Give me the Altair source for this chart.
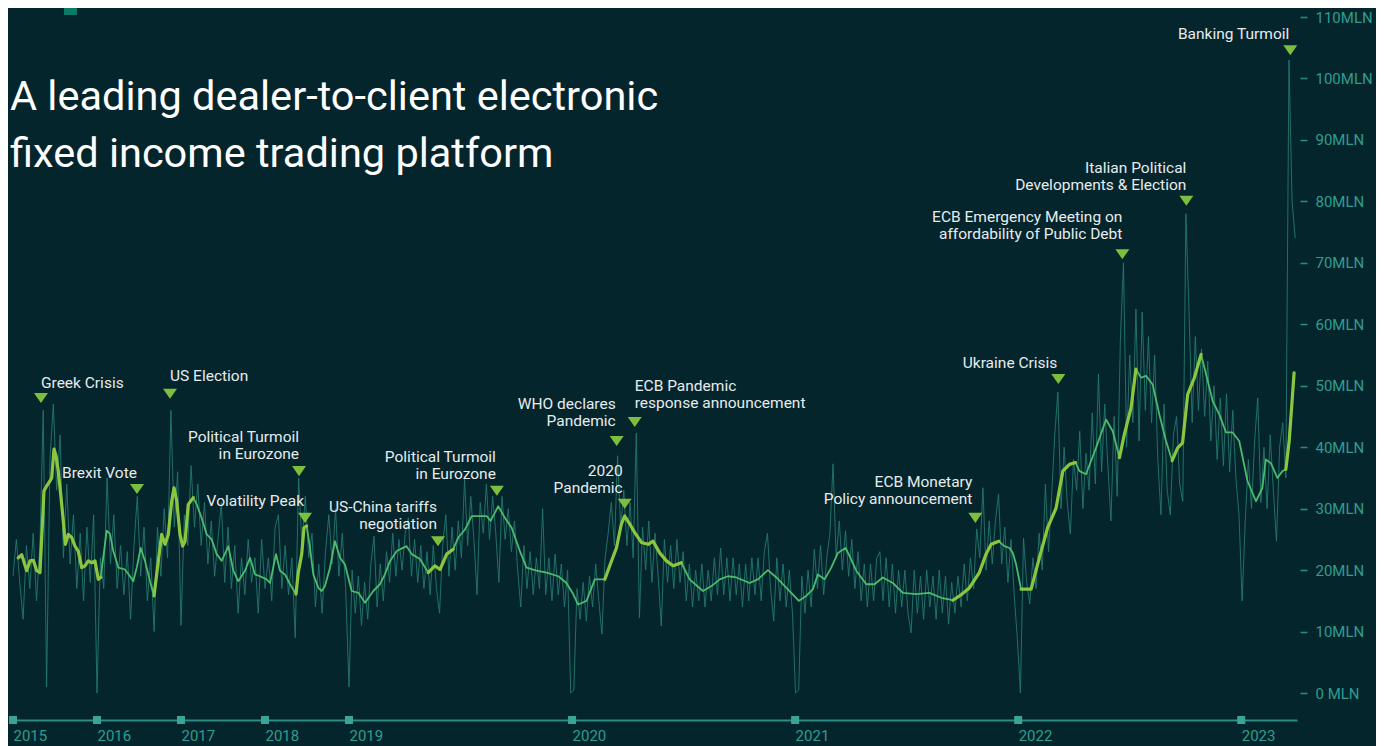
import altair as alt
import pandas as pd

# ---------------- data ----------------
YEARS = [2015, 2016, 2017, 2018, 2019, 2020, 2021, 2022, 2023]

# moving average (fractional year, MLN)
SMOOTH_T = [
    2015.063, 2015.104, 2015.163, 2015.202, 2015.242, 2015.282, 2015.321, 2015.369, 2015.401, 2015.440,
    2015.461, 2015.488, 2015.512, 2015.539, 2015.568, 2015.599, 2015.623, 2015.658, 2015.699, 2015.738,
    2015.777, 2015.818, 2015.857, 2015.896, 2015.937, 2015.976,
    2016.015, 2016.044, 2016.115, 2016.155, 2016.194, 2016.254, 2016.333, 2016.393, 2016.432, 2016.473,
    2016.520, 2016.571, 2016.631, 2016.679, 2016.730, 2016.770, 2016.810, 2016.849, 2016.889, 2016.917,
    2016.949, 2016.988,
    2017.020, 2017.048, 2017.087, 2017.146, 2017.187, 2017.246, 2017.306, 2017.365, 2017.425, 2017.485,
    2017.563, 2017.623, 2017.682, 2017.762, 2017.821, 2017.881, 2017.940,
    2018.020, 2018.060, 2018.131, 2018.179, 2018.238, 2018.298, 2018.369, 2018.396, 2018.437, 2018.464,
    2018.496, 2018.536, 2018.575, 2018.635, 2018.675, 2018.714, 2018.774, 2018.833, 2018.893, 2018.952,
    2019.012, 2019.042, 2019.072, 2019.109, 2019.139, 2019.161, 2019.184, 2019.214, 2019.258, 2019.281,
    2019.318, 2019.355, 2019.385, 2019.408, 2019.438, 2019.467, 2019.490, 2019.520, 2019.550, 2019.587,
    2019.617, 2019.635, 2019.669, 2019.699, 2019.729, 2019.766, 2019.796, 2019.841, 2019.886, 2019.938,
    2019.975,
    2020.005, 2020.027, 2020.065, 2020.102, 2020.147, 2020.177, 2020.199, 2020.221, 2020.236, 2020.259,
    2020.281, 2020.311, 2020.341, 2020.363, 2020.393, 2020.423, 2020.453, 2020.490, 2020.527, 2020.587,
    2020.625, 2020.662, 2020.699, 2020.737, 2020.796, 2020.833, 2020.878, 2020.916, 2020.961,
    2021.017, 2021.050, 2021.080, 2021.102, 2021.132, 2021.162, 2021.192, 2021.226, 2021.244, 2021.274,
    2021.319, 2021.356, 2021.393, 2021.438, 2021.483, 2021.543, 2021.602, 2021.655, 2021.707, 2021.737,
    2021.781, 2021.826, 2021.856, 2021.879, 2021.913, 2021.938, 2021.961, 2021.976, 2021.991,
    2022.013, 2022.058, 2022.095, 2022.132, 2022.170, 2022.200, 2022.230, 2022.257, 2022.275, 2022.304,
    2022.349, 2022.394, 2022.424, 2022.454, 2022.476, 2022.506, 2022.528, 2022.551, 2022.573, 2022.603,
    2022.633, 2022.663, 2022.690, 2022.715, 2022.737, 2022.760, 2022.790, 2022.820, 2022.842, 2022.872,
    2022.902, 2022.932, 2022.961, 2022.991,
    2023.028, 2023.066, 2023.095, 2023.110, 2023.133, 2023.162, 2023.185, 2023.200, 2023.215, 2023.237,
]
SMOOTH_V = [
    22.0, 22.5, 19.9, 21.5, 21.6, 19.9, 19.6, 32.9, 33.7, 34.5,
    35.0, 39.7, 38.6, 36.1, 32.3, 28.0, 24.2, 25.8, 25.3, 23.9,
    23.1, 20.4, 20.7, 21.5, 21.2, 21.5,
    18.5, 18.8, 26.4, 25.9, 23.1, 20.4, 20.1, 19.0, 18.2, 20.4,
    23.6, 21.5, 18.2, 15.8, 21.5, 25.8, 24.2, 25.8, 31.2, 33.4,
    31.2, 25.8,
    23.9, 24.7, 30.7, 31.8, 30.7, 28.5, 25.8, 25.0, 22.6, 21.5,
    23.9, 19.9, 18.2, 19.9, 22.0, 19.3, 19.0,
    18.5, 17.9, 22.6, 19.9, 19.3, 17.7, 16.1, 19.6, 22.6, 26.9,
    27.2, 23.6, 19.3, 17.1, 16.6, 17.4, 20.4, 24.7, 22.0, 20.9,
    16.6, 16.3, 14.7, 16.6, 17.7, 19.3, 21.5, 23.1, 23.9, 22.6,
    21.8, 19.6, 20.7, 20.1, 22.6, 23.4, 25.3, 26.6, 28.8, 28.8,
    28.8, 28.0, 30.4, 28.5, 26.9, 23.1, 20.4, 19.9, 19.6, 19.0,
    17.9,
    16.1, 14.4, 15.0, 18.5, 18.5, 21.5, 23.6, 27.5, 28.8, 27.5,
    26.1, 24.5, 24.2, 24.7, 22.8, 21.5, 20.7, 21.2, 18.5, 16.6,
    17.4, 18.5, 19.0, 18.8, 17.9, 18.5, 20.0, 18.8, 17.1,
    15.0, 15.8, 16.9, 19.3, 18.5, 20.4, 22.8, 23.6, 22.3, 19.9,
    17.7, 17.7, 18.8, 17.9, 16.3, 16.1, 16.3, 15.5, 15.1, 15.8,
    17.1, 19.6, 22.6, 24.2, 24.7, 23.9, 23.6, 22.8, 20.9,
    16.9, 16.9, 22.0, 26.9, 30.1, 36.1, 37.2, 37.5, 36.1, 35.6,
    39.9, 44.5, 42.6, 38.3, 42.1, 46.4, 52.7, 51.3, 51.6, 50.2,
    45.3, 41.0, 37.8, 39.9, 40.7, 48.6, 51.3, 55.1, 51.9, 47.5,
    45.3, 42.4, 42.4, 41.0,
    34.5, 31.2, 33.4, 38.0, 37.4, 35.0, 36.1, 36.4, 41.0, 52.1,
]

# periods where the moving average is highlighted (thick lime line)
EVENT_WINDOWS = [
    (2015.0, 2016.05), (2016.675, 2017.15), (2018.365, 2018.50), (2019.355, 2019.470),
    (2020.145, 2020.492), (2021.705, 2021.915), (2022.010, 2022.260), (2022.452, 2022.530),
    (2022.688, 2022.822), (2023.198, 2023.24),
]

# daily-volume trace, sampled: 2015-2018 every 0.04 yr, 2019-2023 every 0.014 yr
NOISE_A_START, NOISE_A_STEP = 2015.0, 0.04
NOISE_A = [
    19, 25, 18, 12, 24, 17, 26, 15, 24, 46,
    1, 38, 47, 33, 42, 22, 34, 21, 29, 17,
    26, 15, 27, 18, 29, 0, 22, 17, 35, 21,
    29, 17, 24, 16, 23, 12, 24, 32, 19, 27,
    15, 22, 10, 27, 19, 30, 22, 46, 27, 36,
    11, 29, 24, 37, 27, 34, 24, 31, 21, 28,
    19, 25, 31, 18, 27, 17, 24, 13, 22, 16,
    25, 18, 22, 13, 25, 17, 22, 15, 27, 29,
    17, 24, 16, 22, 9, 35, 24, 32, 22, 26,
    14, 21, 13, 23, 29, 21, 30, 19, 26, 17,
]
NOISE_B_START, NOISE_B_STEP = 2019.0, 0.014
NOISE_B = [
    1, 20, 13, 19, 11, 18, 12, 21, 25.5, 14,
    21, 15, 23, 18, 26, 19, 25, 20, 26, 28.5,
    19, 25, 18, 24, 17, 23, 16, 24, 17, 13,
    24, 29, 19, 27, 20, 28, 22, 34.8, 24, 32,
    25, 16, 31, 26, 34, 25, 32, 26, 18, 32,
    25, 30, 23, 28, 20, 14, 24, 17, 23, 16,
    22, 17, 30, 16, 22, 15, 22.6, 16, 21, 14,
    20, 0, 0.5, 17, 12, 18, 11.7, 19, 14, 21,
    15, 9.6, 22, 26, 31, 24, 38.6, 27, 33, 24,
    31, 22, 42.3, 12.2, 27, 20, 28, 18, 26, 19,
    10.9, 25, 18, 24, 17, 25, 18, 23, 15, 21,
    14, 20, 15, 21, 14, 20, 15, 22, 16, 23.6,
    16, 22, 15, 22, 16, 21, 14, 21, 15, 22,
    16, 22, 15, 23, 26, 17, 11.7, 22, 15, 21,
    14, 20, 13, 0, 0.5, 19, 13, 20, 14, 23.4,
    17, 24, 16, 22, 26, 37.3, 22, 28, 20, 26.4,
    19, 25, 17, 23, 15, 21, 14, 21, 15, 22,
    23, 15, 22, 14, 21, 13, 20, 14, 20, 13,
    9.8, 20, 13, 19, 12, 20, 14, 19, 12, 20,
    13, 19, 11.2, 18, 13, 19, 14, 21, 15, 22,
    17, 26.7, 22, 33.4, 20, 28, 21, 28, 32.4, 21,
    27, 18, 25, 16, 9, 0, 25.2, 18, 14.5, 22,
    17, 26, 20, 34, 23, 32, 42, 49, 30, 40,
    31, 25.9, 38, 33, 42.6, 30, 39, 33, 45.6, 34,
    51.9, 36, 47, 37, 28, 45, 32, 57.3, 70, 40,
    55, 44, 62.5, 41, 62, 46, 58, 44, 55, 38,
    29, 47, 33, 29, 42, 45, 34, 31.2, 78, 62,
    44, 58, 46, 56, 45, 54, 41, 50, 38, 48,
    37, 48.7, 36, 46, 35, 29, 15, 28, 38, 30,
    41, 48, 31, 40, 30, 42, 33, 24.7, 40, 44,
    35, 103, 80, 74,
]

EVENT_LINES = [
    ["Greek Crisis"],
    ["Brexit Vote"],
    ["US Election"],
    ["Political Turmoil", "in Eurozone"],
    ["Volatility Peak"],
    ["US-China tariffs", "negotiation"],
    ["Political Turmoil", "in Eurozone"],
    ["WHO declares", "Pandemic"],
    ["2020", "Pandemic"],
    ["ECB Pandemic", "response announcement"],
    ["ECB Monetary", "Policy announcement"],
    ["Ukraine Crisis"],
    ["ECB Emergency Meeting on", "affordability of Public Debt"],
    ["Italian Political", "Developments & Election"],
    ["Banking Turmoil"],
]
EVENT_T = [2015.333, 2016.476, 2016.869, 2018.405, 2018.476, 2019.399, 2019.663, 2020.200,
           2020.236, 2020.281, 2021.808, 2022.180, 2022.467, 2022.754, 2023.220]
EVENT_V = [48.0, 33.2, 48.7, 36.1, 28.5, 24.7, 32.9, 41.0, 30.8, 44.1, 28.5, 51.1, 71.4, 80.1, 104.6]

TITLE_LINES = ["A leading dealer-to-client electronic", "fixed income trading platform"]
Y_TICKS = list(range(0, 111, 10))

# ---------------- styling ----------------
BG = "#05252c"
TEAL_TXT = "#2f9d90"
TEAL_LINE = "#2a8c82"
NOISE_COL = "#23786f"
THIN_COL = "#4cbb6c"
THICK_COL = "#8cc63f"
TRI_COL = "#7cbf3f"
LABEL_COL = "#e6ecee"
FONT = "Roboto"
W, H = 1284, 703
LINE_GAP = 17
# (align, dx, dy of last line) per event label
LABEL_LAYOUT = [("left", 0, -15), ("right", 0, -16), ("left", 0, -18), ("right", 0, -17),
                ("right", -1, -17), ("right", -1, -17), ("right", -1, -17), ("right", -1, -20),
                ("right", -2, -16), ("left", 0, -19), ("right", -3, -19), ("right", -1, -16),
                ("right", 0, -20), ("right", 0, -16), ("right", -1, -16)]

# ---------------- tables ----------------
noise_t = [NOISE_A_START + i * NOISE_A_STEP for i in range(len(NOISE_A))] + \
          [NOISE_B_START + i * NOISE_B_STEP for i in range(len(NOISE_B))]
noise_df = pd.DataFrame({"t": noise_t, "v": NOISE_A + NOISE_B})
smooth_df = pd.DataFrame({"t": SMOOTH_T, "v": SMOOTH_V})
rows = []
for w, (a, b) in enumerate(EVENT_WINDOWS):
    for t, v in zip(SMOOTH_T, SMOOTH_V):
        if a <= t <= b:
            rows.append({"t": t, "v": v, "w": w})
thick_df = pd.DataFrame(rows)
years_df = pd.DataFrame({"t": YEARS})
events_df = pd.DataFrame({"t": EVENT_T, "v": EVENT_V})

x_scale = alt.Scale(domain=[2015, 2019, 2023.25], range=[0, 336, W], nice=False, zero=False)
y_scale = alt.Scale(domain=[-4.39, 110], nice=False, zero=False)
X_AXIS = alt.Axis(
    values=YEARS, format="d", labelAlign="left", labelColor=TEAL_TXT, labelFont=FONT,
    labelFontSize=15, labelPadding=8, ticks=False, domainColor=TEAL_LINE, domainWidth=2,
    grid=False, title=None, labelFlush=False, labelOverlap=False)
Y_AXIS = alt.Axis(
    orient="right", values=Y_TICKS,
    labelExpr="datum.value == 0 ? '0 MLN' : datum.value + 'MLN'",
    offset=3, tickSize=7, tickWidth=1.5, tickColor=TEAL_LINE, labelPadding=8,
    domain=False, grid=False, title=None, labelColor=TEAL_TXT, labelFont=FONT,
    labelFontSize=15, labelBaseline="middle")
X = alt.X("t:Q", scale=x_scale, axis=X_AXIS)
Y = alt.Y("v:Q", scale=y_scale, axis=Y_AXIS)

noise = alt.Chart(noise_df).mark_line(color=NOISE_COL, strokeWidth=1, opacity=0.9).encode(x=X, y=Y)
thin = alt.Chart(smooth_df).mark_line(color=THIN_COL, strokeWidth=1.8, strokeJoin="round").encode(x=X, y=Y)
thick = alt.Chart(thick_df).mark_line(color=THICK_COL, strokeWidth=3.2, strokeJoin="round",
                                      strokeCap="round").encode(x=X, y=Y, detail="w:N")

squares = alt.Chart(years_df).mark_square(size=64, color="#3aa596", opacity=1).encode(
    x=X, y=alt.value(H),
)

tri = alt.Chart(events_df).mark_point(
    shape="M-1,-0.72L1,-0.72L0,0.72Z", size=196, filled=True, opacity=1, color=TRI_COL
).encode(x=X, y=Y)

label_layers = []
for i, lines in enumerate(EVENT_LINES):
    align, dx, dy = LABEL_LAYOUT[i]
    n = len(lines)
    for j, line in enumerate(lines):
        df = pd.DataFrame({"t": [EVENT_T[i]], "v": [EVENT_V[i]], "txt": [line]})
        label_layers.append(
            alt.Chart(df).mark_text(align=align, baseline="middle", dx=dx,
                                    dy=dy - LINE_GAP * (n - 1 - j), font=FONT, fontSize=15.5,
                                    color=LABEL_COL).encode(x=X, y=Y, text="txt:N")
        )

title_layers = []
for j, line in enumerate(TITLE_LINES):
    title_layers.append(
        alt.Chart(pd.DataFrame({"txt": [line]})).mark_text(
            align="left", baseline="alphabetic", font=FONT, fontSize=41.5, color="#ffffff"
        ).encode(x=alt.value(-3), y=alt.value(93 + 57 * j), text="txt:N")
    )

logo = alt.Chart(pd.DataFrame({"a": [0]})).mark_rect(color="#0b7a66").encode(
    x=alt.value(51), x2=alt.value(64), y=alt.value(-17), y2=alt.value(-2))

chart = alt.layer(noise, thin, thick, squares, tri, *label_layers, *title_layers, logo).properties(
    width=W, height=H, background=BG,
    padding={"left": 5, "top": 9, "right": 79, "bottom": 26},
    autosize=alt.AutoSizeParams(type="none"),
).configure_view(stroke=None)

chart.save("out.html", embed_options={"renderer": "svg", "actions": False})
